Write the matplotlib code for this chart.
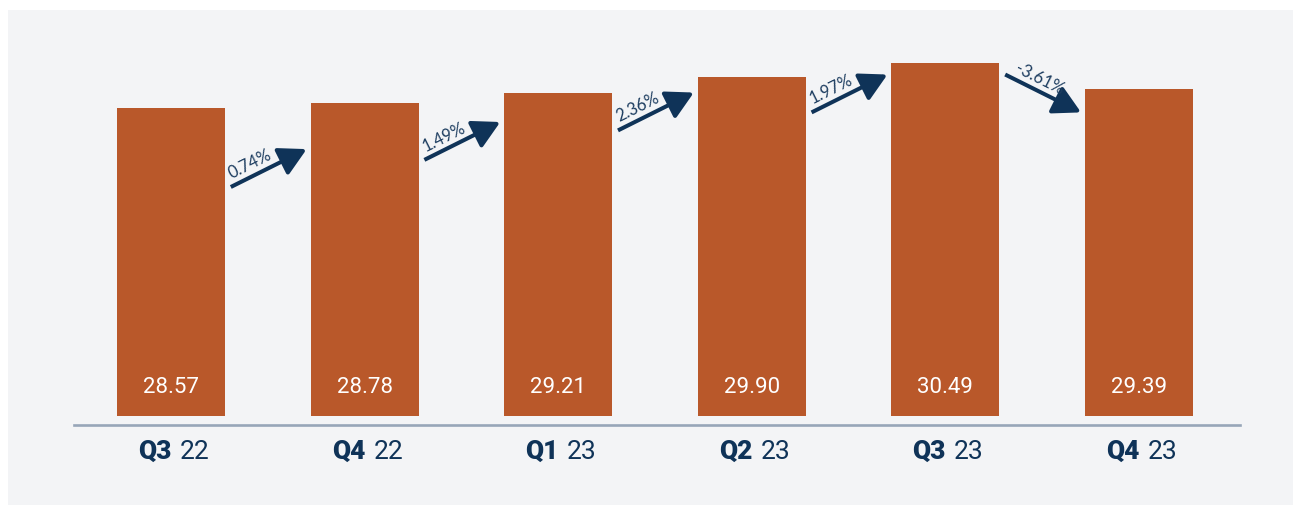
import numpy as np
import matplotlib
matplotlib.use("Agg")
import matplotlib.pyplot as plt
from matplotlib.patches import Rectangle
from matplotlib.offsetbox import TextArea, HPacker, AnnotationBbox

# data
quarters = ["Q3", "Q4", "Q1", "Q2", "Q3", "Q4"]
years = ["22", "22", "23", "23", "23", "23"]
values = [28.57, 28.78, 29.21, 29.90, 30.49, 29.39]
# vertical level (data units) of the middle of each change arrow
arrow_mid = [25.99, 27.15, 28.41, 29.18, 29.18]

# styles
bg = "#f3f4f6"
bar_color = "#b9582a"
navy = "#0f3358"
label_navy = "#1d3d60"
bar_base = 15.385
arrow_half = 0.81

fig = plt.figure(figsize=(12.93, 5.06), dpi=100)
fig.patch.set_facecolor("white")
fig.patches.append(Rectangle((8 / 1293, 0), 1, 495 / 506, transform=fig.transFigure,
                             facecolor=bg, edgecolor="none", zorder=-10))

ax = fig.add_axes([74 / 1293, 80 / 506, 1166 / 1293, 415 / 506])
ax.set_facecolor("none")
ax.set_xlim(-0.501, 5.522)
ax.set_ylim(15.0, 32.75)

x = np.arange(len(values))
heights = [v - bar_base for v in values]
ax.bar(x, heights, bottom=bar_base, width=0.558, color=bar_color, zorder=2)

# value labels inside bars
for xi, v in zip(x, values):
    ax.text(xi, bar_base + 1.25, f"{v:.2f}", ha="center", va="center",
            color="white", fontsize=16, family="Roboto", zorder=3)

# hide spines except the bottom line
for s in ["top", "right", "left"]:
    ax.spines[s].set_visible(False)
ax.spines["bottom"].set_color("#97a6b8")
ax.spines["bottom"].set_linewidth(1.9)
ax.set_xticks([])
ax.set_yticks([])

# x labels: bold quarter + regular year
for xi, q, yr in zip(x, quarters, years):
    t1 = TextArea(q, textprops=dict(fontsize=19, fontweight="heavy", color=navy, family="Roboto"))
    t2 = TextArea(yr, textprops=dict(fontsize=19, color=navy, family="Roboto"))
    box = HPacker(children=[t1, t2], sep=6, pad=0, align="baseline")
    ab = AnnotationBbox(box, (xi + 0.015, -0.0627), xycoords=("data", "axes fraction"),
                        box_alignment=(0.5, 0.5), frameon=False, pad=0,
                        annotation_clip=False)
    ax.add_artist(ab)

# change arrows with percent labels
fig.canvas.draw()
for i in range(len(values) - 1):
    pct = (values[i + 1] / values[i] - 1) * 100
    sgn = 1 if pct >= 0 else -1
    x0, x1 = i + 0.309, i + 0.701
    y0 = arrow_mid[i] - sgn * arrow_half
    y1 = arrow_mid[i] + sgn * arrow_half
    ax.annotate("", xy=(x1, y1), xytext=(x0, y0),
                arrowprops=dict(arrowstyle="-|>,head_length=0.83,head_width=0.45",
                                mutation_scale=20, color=navy, lw=2.9,
                                shrinkA=0, shrinkB=0, capstyle="butt"),
                zorder=4)
    p0 = ax.transData.transform((x0, y0))
    p1 = ax.transData.transform((x1, y1))
    ang = np.degrees(np.arctan2(p1[1] - p0[1], p1[0] - p0[0]))
    f = 0.33 if sgn > 0 else 0.38
    px = x0 + f * (x1 - x0)
    py = y0 + f * (y1 - y0)
    nx, ny = -np.sin(np.radians(ang)), np.cos(np.radians(ang))
    ax.annotate(f"{pct:.2f}%", xy=(px, py), xytext=(nx * 9, ny * 9),
                textcoords="offset points", ha="center", va="center",
                rotation=ang, rotation_mode="anchor", fontsize=12,
                family="Lato", color=label_navy, zorder=4)

fig.savefig("out.png", dpi=100, facecolor=fig.get_facecolor())
